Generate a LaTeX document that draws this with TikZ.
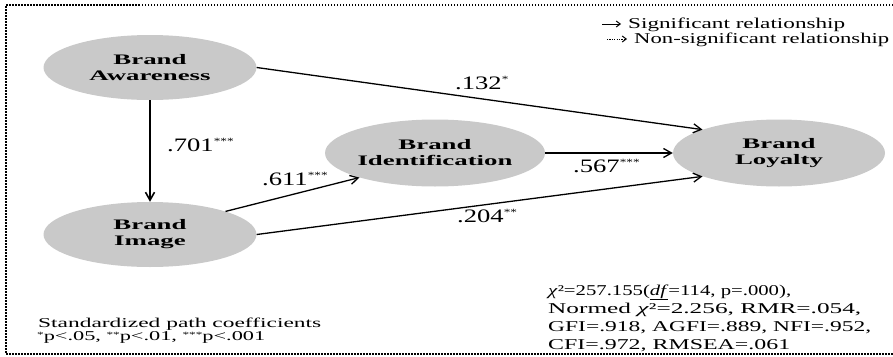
\documentclass[tikz,border=0pt]{standalone}
\usepackage{fontspec}
\usepackage{graphicx}
\setmainfont{Liberation Serif}
\newfontfamily\nodefont[FakeStretch=1.85]{Liberation Serif}
\newfontfamily\coeffont[FakeStretch=1.4]{Liberation Serif}
\usetikzlibrary{shapes.geometric,arrows.meta}
\definecolor{ellgray}{RGB}{201,201,201}
\newcommand{\cstars}[1]{\raisebox{7pt}{\fontsize{9.5}{9.5}\selectfont #1}}
\newcommand{\nstars}[1]{\raisebox{3pt}{\fontsize{8}{8}\selectfont #1}}
\newcommand{\fitw}[2]{\resizebox{#1}{\height}{#2}}
\begin{document}
\begin{tikzpicture}[x=1pt,y=-1pt,
  construct/.style={ellipse, fill=ellgray, inner sep=0pt, align=center,
    font=\nodefont\bfseries\fontsize{14.5}{16}\selectfont},
  pathline/.style={line width=1.3pt, -{Straight Barb[length=8pt,width=9pt]}},
  coef/.style={anchor=base west, inner sep=0pt, font=\coeffont\fontsize{19}{19}\selectfont},
  txt/.style={anchor=base west, inner sep=0pt, font=\fontsize{15}{18}\selectfont},
  note/.style={anchor=base west, inner sep=0pt, font=\fontsize{13.5}{13}\selectfont},
  frame/.style={line width=1.8pt, dash pattern=on 1.5pt off 1.5pt}
]
\useasboundingbox (0,0) rectangle (893,356);
\draw[frame] (893,5) -- (6,5) -- (6,354) -- (893,354);

\node[construct, minimum width=213pt, minimum height=65pt] (aw) at (150,67.5) {Brand\\Awareness};
\node[construct, minimum width=213pt, minimum height=65pt] (im) at (150,234.5) {Brand\\Image};
\node[construct, minimum width=220pt, minimum height=67pt] (id) at (435,153) {Brand\\Identification};
\node[construct, minimum width=212pt, minimum height=67pt] (loy) at (779,153) {Brand\\Loyalty};

\draw[pathline, line width=1.6pt] (aw.south) -- (im.north);
\draw[pathline] (aw.east) -- (loy.163);
\draw[pathline] (im.17) -- (id.198);
\draw[pathline] (im.east) -- (loy.197);
\draw[pathline] (id.east) -- (loy.west);

\node[coef] (c701) at (167,151) {.701\cstars{***}};
\node[coef] (c611) at (262,185) {.611\cstars{***}};
\node[coef] (c132) at (455,89) {.132\cstars{*}};
\node[coef] (c567) at (573,172) {.567\cstars{***}};
\node[coef] (c204) at (457,222) {.204\cstars{**}};

% legend
\coordinate (s1) at (602,24);
\coordinate (s2) at (621,24);
\coordinate (n1) at (607,39);
\coordinate (n2) at (627,39);
\draw[line width=1pt, -{Straight Barb[length=4pt,width=6pt]}] (s1) -- (s2);
\draw[line width=1pt, dash pattern=on 1.2pt off 1.2pt, -{Straight Barb[length=4pt,width=6pt]}] (n1) -- (n2);
\node[txt] (leg1) at (628,28) {\fitw{217pt}{Significant relationship}};
\node[txt] (leg2) at (634,43) {\fitw{255pt}{Non-significant relationship}};

% fit indices
\node[txt] (fit1) at (548,295) {\fitw{243pt}{\textit{χ}²=257.155(\underline{\textit{df}}=114, p=.000),}};
\node[txt] (fit2) at (548,313) {\fitw{313pt}{Normed \textit{χ}²=2.256, RMR=.054,}};
\node[txt] (fit3) at (548,331) {\fitw{323pt}{GFI=.918, AGFI=.889, NFI=.952,}};
\node[txt] (fit4) at (548,349) {\fitw{242pt}{CFI=.972, RMSEA=.061}};

% note
\node[note] (note1) at (38,327) {\fitw{283pt}{Standardized path coefficients}};
\node[note] (note2) at (37,340) {\fitw{228pt}{\nstars{*}p<.05, \nstars{**}p<.01, \nstars{***}p<.001}};
\end{tikzpicture}
\end{document}
